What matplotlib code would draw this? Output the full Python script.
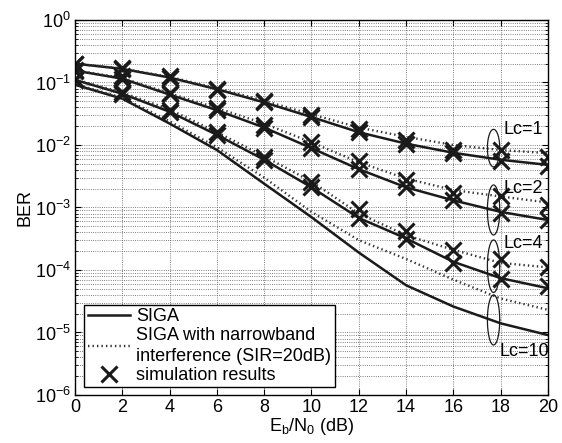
import numpy as np
import matplotlib
matplotlib.use("Agg")
import matplotlib.pyplot as plt
from matplotlib.ticker import LogLocator, LogFormatterMathtext, NullFormatter
from matplotlib.lines import Line2D

plt.rcParams['font.family'] = ['Liberation Sans', 'DejaVu Sans']
plt.rcParams['mathtext.fontset'] = 'custom'
plt.rcParams['mathtext.rm'] = 'Liberation Sans'
plt.rcParams['mathtext.it'] = 'Liberation Sans:italic'
plt.rcParams['font.size'] = 13

# Eb/N0 points (dB)
ebn0 = [0, 2, 4, 6, 8, 10, 12, 14, 16, 18, 20]
lc_values = [1, 2, 4, 10]

# SIGA (no interference), solid
siga_lc1 = [0.20, 0.165, 0.12, 0.078, 0.048, 0.028, 0.016, 0.0105, 0.0075, 0.0058, 0.0048]
siga_lc2 = [0.155, 0.115, 0.064, 0.036, 0.019, 0.0089, 0.0041, 0.0021, 0.0013, 0.00085, 0.00063]
siga_lc4 = [0.11, 0.066, 0.034, 0.0145, 0.0058, 0.0021, 0.00068, 0.00032, 0.000135, 7.4e-5, 5.1e-5]
siga_lc10 = [0.092, 0.055, 0.022, 0.0083, 0.0024, 0.0007, 0.00019, 5.7e-5, 2.6e-5, 1.4e-5, 9.1e-6]

# SIGA with narrowband interference (SIR=20dB), dotted
nbi_lc1 = [0.20, 0.167, 0.123, 0.081, 0.051, 0.031, 0.019, 0.0135, 0.010, 0.0083, 0.0074]
nbi_lc2 = [0.157, 0.118, 0.067, 0.039, 0.022, 0.011, 0.0053, 0.0029, 0.0019, 0.0015, 0.0012]
nbi_lc4 = [0.112, 0.069, 0.037, 0.016, 0.0066, 0.0026, 0.0008, 0.00036, 0.00021, 0.00013, 0.00011]
nbi_lc10 = [0.094, 0.057, 0.024, 0.0092, 0.003, 0.00085, 0.0003, 0.00015, 7e-5, 3.5e-5, 2.3e-5]

# simulation results (Lc = 1, 2, 4), without / with interference
sim_lc1 = [0.20, 0.165, 0.12, 0.077, 0.048, 0.028, 0.0162, 0.0105, 0.0074, 0.0055, 0.0046]
sim_lc2 = [0.155, 0.112, 0.065, 0.036, 0.019, 0.0088, 0.0042, 0.0021, 0.0013, 0.00082, 0.00062]
sim_lc4 = [0.11, 0.066, 0.034, 0.0145, 0.0057, 0.0021, 0.00068, 0.00031, 0.00013, 7.2e-5, 5.6e-5]
sim_nbi_lc1 = [0.20, 0.168, 0.125, 0.08, 0.05, 0.03, 0.018, 0.012, 0.0083, 0.0082, 0.0065]
sim_nbi_lc2 = [0.157, 0.125, 0.068, 0.039, 0.021, 0.011, 0.0055, 0.0028, 0.0017, 0.0015, 0.0011]
sim_nbi_lc4 = [0.112, 0.07, 0.036, 0.016, 0.0065, 0.0026, 0.00095, 0.00042, 0.00021, 0.00015, 0.00011]

# ellipse annotations: centre (dB), centre log10(BER), half height in decades
ell_x = 17.7
ell_logc = [-2.05, -3.04, -3.94, -4.8]
ell_half = [0.30, 0.40, 0.42, 0.40]
label_x = [18.1, 18.1, 18.1, 17.95]
label_y = [10**-1.76, 10**-2.69, 10**-3.57, 10**-5.31]

fig = plt.figure(figsize=(5.62, 4.43), dpi=100)
ax = fig.add_axes([0.1335, 0.1084, 0.8415, 0.8465])

for s in [siga_lc1, siga_lc2, siga_lc4, siga_lc10]:
    ax.plot(ebn0, s, color='#1a1a1a', lw=1.8)
for s in [nbi_lc1, nbi_lc2, nbi_lc4, nbi_lc10]:
    ax.plot(ebn0, s, color='#333333', lw=1.7, ls=(0, (0.6, 1.3)))
for s in [sim_lc1, sim_lc2, sim_lc4, sim_nbi_lc1, sim_nbi_lc2, sim_nbi_lc4]:
    ax.plot(ebn0, s, ls='none', marker='x', ms=11, mew=2.2, color='#1a1a1a')

t = np.linspace(0, 2 * np.pi, 100)
for lc, lg, h, lx, ly in zip(lc_values, ell_logc, ell_half, label_x, label_y):
    ax.plot(ell_x + 0.26 * np.cos(t), 10 ** (lg + h * np.sin(t)), color='#1a1a1a', lw=0.9)
    ax.text(lx, ly, 'Lc=%d' % lc, ha='left', va='center')

ax.set_yscale('log')
ax.set_xlim(0, 20)
ax.set_ylim(1e-6, 1)
ax.set_xticks(range(0, 21, 2))
ax.yaxis.set_major_locator(LogLocator(base=10, numticks=10))
ax.yaxis.set_minor_locator(LogLocator(base=10, subs=np.arange(2, 10), numticks=100))
ax.yaxis.set_major_formatter(LogFormatterMathtext())
ax.yaxis.set_minor_formatter(NullFormatter())
ax.tick_params(which='both', direction='in', top=True, right=True)
ax.tick_params(which='major', length=4, pad=3)
ax.tick_params(which='minor', length=2)
ax.grid(True, which='major', axis='x', ls=':', lw=0.6, color='#555555')
ax.grid(True, which='both', axis='y', ls=':', lw=0.6, color='#555555')
for sp in ax.spines.values():
    sp.set_linewidth(1.0)

ax.set_ylabel('BER', labelpad=1)
ax.set_xlabel(r'E$_\mathrm{b}$/N$_\mathrm{0}$ (dB)', labelpad=0)

handles = [
    Line2D([], [], color='#1a1a1a', lw=1.8),
    Line2D([], [], color='#333333', lw=1.7, ls=(0, (0.6, 1.3))),
    Line2D([], [], ls='none', marker='x', ms=11, mew=2.2, color='#1a1a1a'),
]
leg = ax.legend(handles, ['SIGA', 'SIGA with narrowband\ninterference (SIR=20dB)', 'simulation results'],
                loc='lower left', bbox_to_anchor=(0.02, 0.02), fancybox=False, framealpha=1,
                edgecolor='black', handlelength=2.3, borderpad=0.2, labelspacing=0.12,
                handletextpad=0.35, borderaxespad=0)
leg.get_frame().set_linewidth(1.0)
for txt in leg.get_texts():
    txt.set_linespacing(1.25)

fig.savefig('out.png', dpi=100)
